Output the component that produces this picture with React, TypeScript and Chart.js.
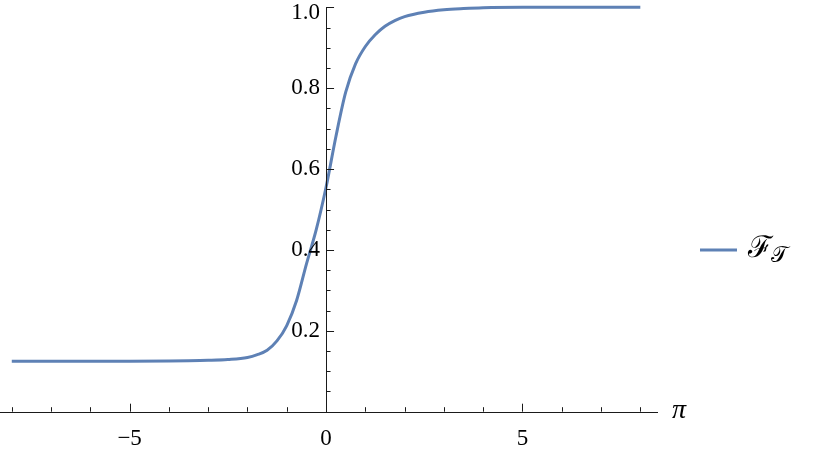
import React, { useEffect, useRef } from "react";
import { Chart, registerables } from "chart.js";

Chart.register(...registerables);

// data
const xValues = [-8, -7, -6, -5, -4, -3.5, -3, -2.5, -2, -1.75, -1.5, -1.25, -1, -0.75, -0.5, -0.25, 0, 0.25, 0.5, 0.75, 1, 1.25, 1.5, 1.75, 2, 2.5, 3, 3.5, 4, 5, 6, 7, 8];
const fValues = [0.125, 0.125, 0.125, 0.125, 0.1255, 0.126, 0.127, 0.129, 0.134, 0.141, 0.152, 0.175, 0.213, 0.275, 0.365, 0.45, 0.555, 0.68, 0.79, 0.86, 0.903, 0.932, 0.953, 0.967, 0.977, 0.988, 0.994, 0.997, 0.999, 1, 1, 1, 1];

const xMajorTicks = [-5, 0, 5];
const xTickLabels = ["\u22125", "0", "5"];
const xMinorTicks = [-8, -7, -6, -5, -4, -3, -2, -1, 1, 2, 3, 4, 5, 6, 7, 8];
const yMajorTicks = [0.2, 0.4, 0.6, 0.8, 1.0];
const yTickLabels = ["0.2", "0.4", "0.6", "0.8", "1.0"];
const yMinorTicks = [0.05, 0.1, 0.15, 0.2, 0.25, 0.3, 0.35, 0.4, 0.45, 0.5, 0.55, 0.6, 0.65, 0.7, 0.75, 0.8, 0.85, 0.9, 0.95, 1.0];

const seriesLabel = "\u2131";
const seriesSub = "\uD835\uDCAF";
const xAxisLabel = "\u03C0";

const LINE_COLOR = "#5E81B5";
const AXIS_COLOR = "#1a1a1a";
const FONT = "'Liberation Serif', 'DejaVu Serif', serif";

export default function App() {
  const ref = useRef<HTMLCanvasElement | null>(null);

  useEffect(() => {
    if (!ref.current) return;
    const axesPlugin = {
      id: "mmaAxes",
      afterDraw(chart: any) {
        const ctx = chart.ctx as CanvasRenderingContext2D;
        const xs = chart.scales.x;
        const ys = chart.scales.y;
        const area = chart.chartArea;
        const x0 = xs.getPixelForValue(0);
        const y0 = ys.getPixelForValue(0);
        ctx.save();
        ctx.strokeStyle = AXIS_COLOR;
        ctx.lineWidth = 1;
        ctx.beginPath();
        ctx.moveTo(area.left, Math.round(y0) + 0.5);
        ctx.lineTo(area.right, Math.round(y0) + 0.5);
        ctx.moveTo(Math.round(x0) + 0.5, Math.round(y0) + 0.5);
        ctx.lineTo(Math.round(x0) + 0.5, ys.getPixelForValue(1));
        xMinorTicks.forEach((v) => {
          const px = Math.round(xs.getPixelForValue(v)) + 0.5;
          const len = xMajorTicks.includes(v) ? 8 : 4.5;
          ctx.moveTo(px, y0);
          ctx.lineTo(px, y0 - len);
        });
        yMinorTicks.forEach((v) => {
          const py = Math.round(ys.getPixelForValue(v)) + 0.5;
          const major = yMajorTicks.some((m) => Math.abs(m - v) < 1e-6);
          const len = major ? 8 : 4.5;
          ctx.moveTo(x0, py);
          ctx.lineTo(x0 + len, py);
        });
        ctx.stroke();

        ctx.fillStyle = "#000";
        ctx.font = `23px ${FONT}`;
        ctx.textAlign = "center";
        ctx.textBaseline = "middle";
        xMajorTicks.forEach((v, i) => {
          ctx.fillText(xTickLabels[i], xs.getPixelForValue(v), y0 + 27);
        });
        ctx.textAlign = "right";
        yMajorTicks.forEach((v, i) => {
          const py = Math.max(ys.getPixelForValue(v), 13);
          ctx.fillText(yTickLabels[i], x0 - 6, py);
        });
        ctx.font = `italic 28px ${FONT}`;
        ctx.textAlign = "left";
        ctx.fillText(xAxisLabel, area.right + 14, y0 - 1);

        // legend
        const ly = 250;
        ctx.strokeStyle = LINE_COLOR;
        ctx.lineWidth = 3;
        ctx.beginPath();
        ctx.moveTo(700, ly);
        ctx.lineTo(737, ly);
        ctx.stroke();
        ctx.fillStyle = "#000";
        ctx.font = `30px ${FONT}`;
        ctx.textAlign = "left";
        ctx.fillText(seriesLabel, 748, ly - 1);
        const w = ctx.measureText(seriesLabel).width;
        ctx.font = `22px ${FONT}`;
        ctx.fillText(seriesSub, 748 + w - 2, ly + 6);
        ctx.restore();
      },
    };

    const chart = new Chart(ref.current, {
      type: "line",
      data: {
        datasets: [
          {
            label: "F_T",
            data: xValues.map((x, i) => ({ x, y: fValues[i] })),
            borderColor: LINE_COLOR,
            borderWidth: 3,
            pointRadius: 0,
            fill: false,
            cubicInterpolationMode: "monotone",
            clip: false as any,
          },
        ],
      },
      options: {
        animation: false,
        responsive: false,
        maintainAspectRatio: false,
        layout: { padding: { left: 0, right: 172, top: 7.3, bottom: 37.3 } },
        plugins: { legend: { display: false }, tooltip: { enabled: false } },
        scales: {
          x: { type: "linear", min: -8.3, max: 8.45, display: false },
          y: { type: "linear", min: 0, max: 1, display: false },
        },
      },
      plugins: [axesPlugin],
    });
    return () => chart.destroy();
  }, []);

  return (
    <div style={{ position: "fixed", left: 0, top: 0, width: 830, height: 449, background: "#fff" }}>
      <canvas ref={ref} width={830} height={449} />
    </div>
  );
}
